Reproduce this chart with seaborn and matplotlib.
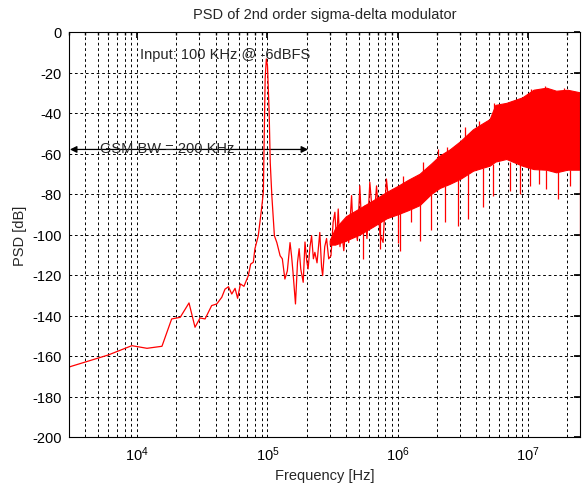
import numpy as np
import matplotlib
matplotlib.use('Agg')
import matplotlib.pyplot as plt
import seaborn as sns

# --- data (frequency in Hz, PSD in dB) ---
line_freq = [3.0e3, 3.12e3, 6.0e3, 9.1e3, 1.19e4, 1.55e4, 1.84e4, 2.14e4, 2.5e4, 2.78e4,
             3.04e4, 3.32e4, 3.73e4, 4.08e4, 4.46e4, 4.72e4, 5.02e4, 5.32e4, 5.64e4, 5.9e4,
             6.2e4, 6.6e4, 7.13e4, 7.43e4, 7.79e4, 8.0e4, 8.5e4, 9.0e4, 9.3e4, 9.46e4,
             9.6e4, 9.8e4, 1.0e5, 1.03e5, 1.05e5, 1.08e5, 1.13e5, 1.18e5, 1.25e5, 1.30e5,
             1.36e5, 1.42e5, 1.49e5, 1.53e5, 1.57e5, 1.64e5, 1.70e5, 1.75e5, 1.80e5, 1.88e5,
             1.94e5, 2.0e5, 2.05e5, 2.12e5, 2.18e5, 2.25e5, 2.31e5, 2.4e5, 2.52e5, 2.6e5,
             2.65e5, 2.75e5, 2.84e5, 2.95e5, 3.07e5, 3.19e5, 3.29e5, 3.39e5, 3.49e5, 3.6e5,
             3.7e5, 3.85e5, 4.05e5, 4.2e5, 4.42e5, 4.55e5, 4.68e5, 4.9e5, 5.11e5, 5.3e5,
             5.58e5, 5.8e5, 6.1e5, 6.5e5, 6.87e5, 7.3e5, 7.71e5, 8.18e5, 8.7e5]
line_psd = [-165.5, -165.1, -159.5, -154.9, -156.2, -155.2, -141.7, -140.9, -133.8, -145.8,
            -141.2, -141.7, -135.1, -134.3, -131.0, -127.0, -125.8, -129.4, -126.6, -131.5,
            -124.4, -125.6, -120.3, -114.6, -113.7, -107.2, -100.6, -87.4, -79.2, -47.9,
            -23.0, -13.3, -16.6, -39.7, -64.4, -80.8, -100.6, -104.0, -110.5, -112.0,
            -122.0, -118.0, -104.0, -110.5, -118.7, -134.3, -113.7, -107.0, -117.0, -123.6,
            -103.7, -113.0, -117.0, -106.0, -100.6, -112.0, -108.8, -114.0, -99.0, -116.0,
            -120.3, -106.0, -102.0, -112.0, -110.5, -94.0, -89.0, -104.0, -87.4, -106.0,
            -97.3, -108.0, -92.3, -104.0, -80.8, -100.0, -94.0, -103.0, -75.9, -98.0,
            -86.0, -102.0, -74.2, -96.0, -76.0, -100.0, -103.9, -72.6, -90.0]

# dense noise band: upper / lower edge of the solid red mass
band_freq = [3.0e5, 3.3e5, 4.0e5, 5.1e5, 6.5e5, 8.2e5, 1.0e6, 1.2e6, 1.47e6, 1.8e6,
             2.1e6, 2.5e6, 3.0e6, 3.78e6, 4.5e6, 5.07e6, 5.6e6, 6.8e6, 9.0e6, 1.1e7,
             1.38e7, 1.64e7, 2.0e7, 2.5e7]
band_upper = [-103, -97, -91, -87, -83, -79, -76, -73, -70, -65,
              -61, -58, -54, -48, -45, -43, -36, -35, -32.3, -28.5,
              -27.5, -29, -28.5, -29.8]
band_lower = [-105, -105, -103, -100, -96, -92, -90, -88, -85.5, -80,
              -77, -75, -72.6, -68.5, -67, -66, -64, -62.7, -66, -67.7,
              -68, -69.3, -68, -68]

# single spikes sticking out of the band (low end, high end)
spike_freq = [5.42e5, 7.28e5, 1.0e6, 1.035e6, 1.27e6, 1.47e6, 1.8e6, 2.29e6, 2.9e6, 3.46e6,
              4.5e6, 5.35e6, 7.3e6, 8.6e6, 1.03e7, 1.22e7, 1.38e7, 1.7e7, 2.08e7, 2.49e7,
              1.1e6, 1.56e6, 2.05e6, 2.4e6, 3.26e6, 4.2e6, 5.5e6, 1.05e7, 1.34e7, 1.9e7]
spike_low = [-112, -107, -104, -108, -94, -103, -98, -94, -95.6, -92.3,
             -86.6, -80.8, -78.4, -80, -76, -75, -77.5, -82.5, -76, -100.6,
             -76, -72, -64, -60, -54, -48, -40, -31, -29, -30]
spike_high = [-98, -94, -89, -89, -87, -85, -80, -76, -73, -70,
              -67, -65, -64, -65, -66, -67, -68, -68, -68, -68,
              -71, -64.4, -57.8, -56.9, -47, -44, -35, -28, -26.8, -27.5]

yticks = list(range(-200, 1, 20))

sns.set_theme(style='white')
plt.rcParams['font.family'] = ['Liberation Sans', 'DejaVu Sans']
plt.rcParams['axes.unicode_minus'] = False

fig = plt.figure(figsize=(5.82, 4.89), dpi=100)
ax = fig.add_axes([69 / 582, 1 - 438 / 489, 511 / 582, 405 / 489])

red = '#ff0000'
ax.fill_between(band_freq, band_lower, band_upper, color=red, linewidth=0.8, zorder=3)
ax.vlines(spike_freq, spike_low, spike_high, color=red, linewidth=0.9, zorder=3)
sns.lineplot(x=line_freq, y=line_psd, sort=False, estimator=None, color=red,
             linewidth=0.9, ax=ax, zorder=4)

ax.set_xscale('log')
ax.set_xlim(3e3, 2.5e7)
ax.set_ylim(-200, 0)
ax.set_yticks(yticks)

# MATLAB style grid and box
dash = (0, (2.8, 2.8))
ax.set_axisbelow(True)
ax.grid(True, which='major', axis='both', color='black', linestyle=dash, linewidth=0.7)
ax.grid(True, which='minor', axis='x', color='black', linestyle=dash, linewidth=0.7)
for s in ax.spines.values():
    s.set_color('black')
    s.set_linewidth(0.8)
    s.set_zorder(5)
ax.tick_params(which='both', direction='in', top=True, right=True, labelsize=10.5,
               colors='black')
ax.tick_params(which='major', length=4, pad=5)
ax.tick_params(which='minor', length=2)

# annotations
ax.text(1.05e4, -11, 'Input: 100 KHz @ -6dBFS', fontsize=10.5, va='center', ha='left')
ax.annotate('', xy=(3.05e3, -58), xytext=(2.05e5, -58),
            arrowprops=dict(arrowstyle='<|-|>', color='black', lw=0.9,
                            mutation_scale=10, shrinkA=0, shrinkB=0))
ax.text(5.2e3, -57.5, 'GSM BW = 200 KHz', fontsize=10.5, va='center', ha='left')

ax.set_title('PSD of 2nd order sigma-delta modulator', fontsize=10.5, pad=10)
ax.set_xlabel('Frequency [Hz]', fontsize=10.5, labelpad=4)
ax.set_ylabel('PSD [dB]', fontsize=10.5, labelpad=4)

plt.savefig('out.png', dpi=100)
